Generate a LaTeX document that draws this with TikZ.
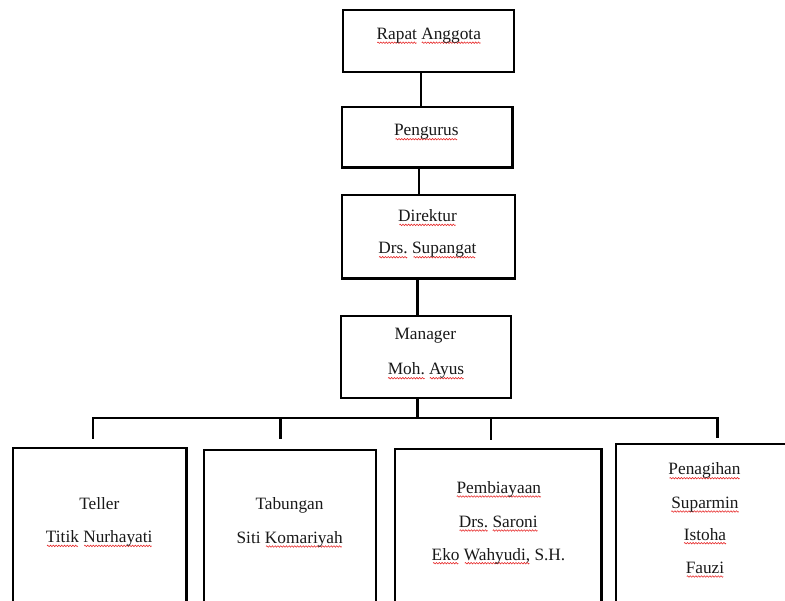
\documentclass[tikz,border=0pt]{standalone}
\usepackage{fontspec}
\setmainfont{Liberation Serif}
\definecolor{squig}{RGB}{230,30,30}
\newsavebox\wavebox
\sbox\wavebox{\tikz[baseline=0pt]{\useasboundingbox (0,-0.9pt) rectangle (2.8pt,0.9pt);
  \draw[squig, line width=0.55pt] (0,0) sin (0.7pt,0.75pt) cos (1.4pt,0) sin (2.1pt,-0.75pt) cos (2.8pt,0);}}
\newcommand\sq[1]{\leavevmode\setbox0\hbox{#1}\rlap{\raisebox{-3.2pt}{\hbox to \wd0{\cleaders\copy\wavebox\hfill}}}\box0\relax}
\tikzset{
  box/.style={draw, line width=2.5pt, inner sep=0pt, fill=none},
  txt/.style={anchor=base, inner sep=0pt, font=\fontsize{17.3}{20}\selectfont, text=black!90},
  conn/.style={line width=2.5pt, line cap=rect},
}
\begin{document}
\begin{tikzpicture}[x=1pt,y=-1pt]
\useasboundingbox (0,0) rectangle (785,601);
\clip (0,0) rectangle (785,601);
\fill[white] (0,0) rectangle (785,601);
% boxes
\node[box, minimum width=171pt, minimum height=62pt] (rapat) at (428.5,41) {};
\node[box, minimum width=170.5pt, minimum height=60.5pt] (pengurus) at (427.2,137.2) {};
\node[box, minimum width=173pt, minimum height=83.5pt] (direktur) at (428.5,236.7) {};
\node[box, minimum width=170pt, minimum height=82pt] (manager) at (426,357) {};
\node[box, minimum width=173.5pt, minimum height=220pt] (teller) at (99.7,558) {};
\node[box, minimum width=172pt, minimum height=210pt] (tabungan) at (290,555) {};
\node[box, minimum width=206.5pt, minimum height=211pt] (pembiayaan) at (498.2,554.5) {};
\node[box, minimum width=204pt, minimum height=216pt] (penagihan) at (718,552) {};
% texts
\node[txt] (t1) at (428.8,39.5) {\sq{Rapat} \sq{Anggota}};
\node[txt] (t2) at (426.3,136) {\sq{Pengurus}};
\node[txt] (t3a) at (427.5,221.7) {\sq{Direktur}};
\node[txt] (t3b) at (427.5,254) {\sq{Drs.} \sq{Supangat}};
\node[txt] (t4a) at (425.3,340) {Manager};
\node[txt] (t4b) at (426,375) {\sq{Moh.} \sq{Ayus}};
\node[txt] (t5a) at (99.3,509.3) {Teller};
\node[txt] (t5b) at (99.2,542.7) {\sq{Titik} \sq{Nurhayati}};
\node[txt] (t6a) at (289.5,510) {Tabungan};
\node[txt] (t6b) at (289.7,543.3) {Siti \sq{Komariyah}};
\node[txt] (t7a) at (498.8,493.3) {\sq{Pembiayaan}};
\node[txt] (t7b) at (498.3,527.3) {\sq{Drs.} \sq{Saroni}};
\node[txt] (t7c) at (498.5,560) {\sq{Eko} \sq{Wahyudi,} S.H.};
\node[txt] (t8a) at (704.5,475) {\sq{Penagihan}};
\node[txt] (t8b) at (705,508.3) {\sq{Suparmin}};
\node[txt] (t8c) at (705,540) {\sq{Istoha}};
\node[txt] (t8d) at (705,573.3) {\sq{Fauzi}};
% connector coordinates
\coordinate (xa) at (421,0);
\coordinate (xb) at (419,0);
\coordinate (xc) at (417.3,0);
\coordinate (busL) at (93,418);
\coordinate (busR) at (717.3,418);
\coordinate (busM) at (417.3,418);
\coordinate (d1) at (93,437.5);
\coordinate (d2) at (280.7,437.5);
\coordinate (d3) at (491,438.5);
\coordinate (d4) at (717.3,436.7);
% connectors
\draw[conn] (rapat.south -| xa) -- (pengurus.north -| xa);
\draw[conn] (pengurus.south -| xb) -- (direktur.north -| xb);
\draw[conn] (direktur.south -| xc) -- (manager.north -| xc);
\draw[conn] (manager.south -| xc) -- (busM);
\draw[conn] (d1) -- (busL) -- (busR) -- (d4);
\draw[conn] (busL -| d2) -- (d2);
\draw[conn] (busL -| d3) -- (d3);
\end{tikzpicture}
\end{document}
